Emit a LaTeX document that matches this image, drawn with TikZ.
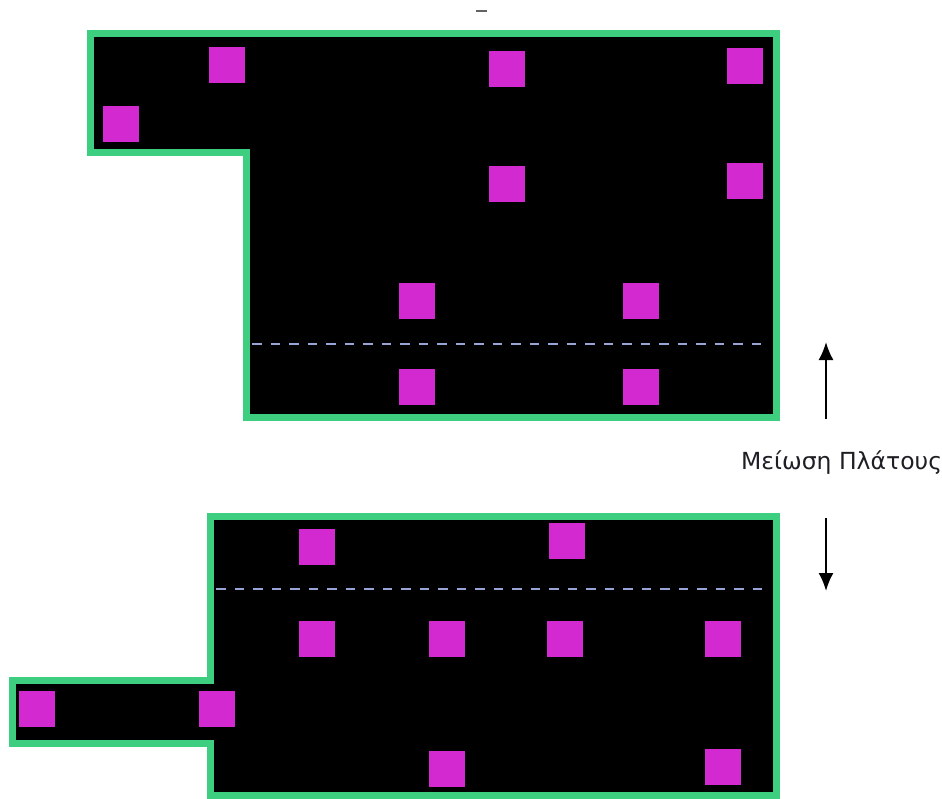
\documentclass[tikz,border=0pt]{standalone}
\usepackage{fontspec}
\newfontfamily\labelfont{DejaVu Sans}
\usetikzlibrary{arrows.meta}
\definecolor{wallgreen}{RGB}{62,206,128}
\definecolor{padmag}{RGB}{210,42,208}
\definecolor{dashblue}{RGB}{150,164,214}
\definecolor{txtgray}{RGB}{30,30,36}
\tikzset{
  room/.style={draw=wallgreen, fill=black, line width=7pt, line join=miter},
  pad/.style={fill=padmag, draw=none, minimum width=36pt, minimum height=36pt, inner sep=0pt},
  cutline/.style={draw=dashblue, line width=2pt, dash pattern=on 9.5pt off 9pt},
  movearrow/.style={draw=black, line width=2pt, -{Latex[length=18pt,width=15pt]}},
  caption/.style={font=\labelfont\fontsize{23.5}{28}\selectfont, text=txtgray, inner sep=0pt}
}
\begin{document}
\begin{tikzpicture}[x=1pt, y=-1pt]
\useasboundingbox (0,0) rectangle (942,798);
% top shape
\draw[room] (90,33) -- (776,33) -- (776,417) -- (246,417) -- (246,152) -- (90,152) -- cycle;
% bottom shape
\draw[room] (210,516) -- (776,516) -- (776,795.5) -- (210,795.5) -- (210,743) -- (12,743) -- (12,680) -- (210,680) -- cycle;
% dashed cut lines
\coordinate (d1a) at (252,344); \coordinate (d1b) at (768,344);
\coordinate (d2a) at (216,589); \coordinate (d2b) at (769,589);
\draw[cutline] (d1a) -- (d1b);
\draw[cutline] (d2a) -- (d2b);
% pads top
\node[pad] (t1) at (227,64.5) {};
\node[pad] (t2) at (121,124) {};
\node[pad] (t3) at (507,68.5) {};
\node[pad] (t4) at (745,66) {};
\node[pad] (t5) at (507,184) {};
\node[pad] (t6) at (745,180.5) {};
\node[pad] (t7) at (416.5,300.5) {};
\node[pad] (t8) at (641,300.5) {};
\node[pad] (t9) at (416.5,387) {};
\node[pad] (t10) at (641,387) {};
% pads bottom
\node[pad] (b1) at (317,546.5) {};
\node[pad] (b2) at (567,541) {};
\node[pad] (b3) at (317,639) {};
\node[pad] (b4) at (447,639) {};
\node[pad] (b5) at (565,639) {};
\node[pad] (b6) at (723,639) {};
\node[pad] (b7) at (36.5,709) {};
\node[pad] (b8) at (217,709) {};
\node[pad] (b9) at (447,769) {};
\node[pad] (b10) at (723,766.5) {};
% label and arrows
\node[caption, anchor=base west] (lbl) at (741,469) {Μείωση Πλάτους};
\coordinate (upS) at (826,419); \coordinate (upE) at (826,342);
\coordinate (dnS) at (826,518); \coordinate (dnE) at (826,591);
\draw[movearrow] (upS) -- (upE);
\draw[movearrow] (dnS) -- (dnE);
% small dash at top
\coordinate (m1) at (476,11); \coordinate (m2) at (487,11);
\draw[txtgray!70, line width=1.6pt] (m1) -- (m2);
\end{tikzpicture}
\end{document}
